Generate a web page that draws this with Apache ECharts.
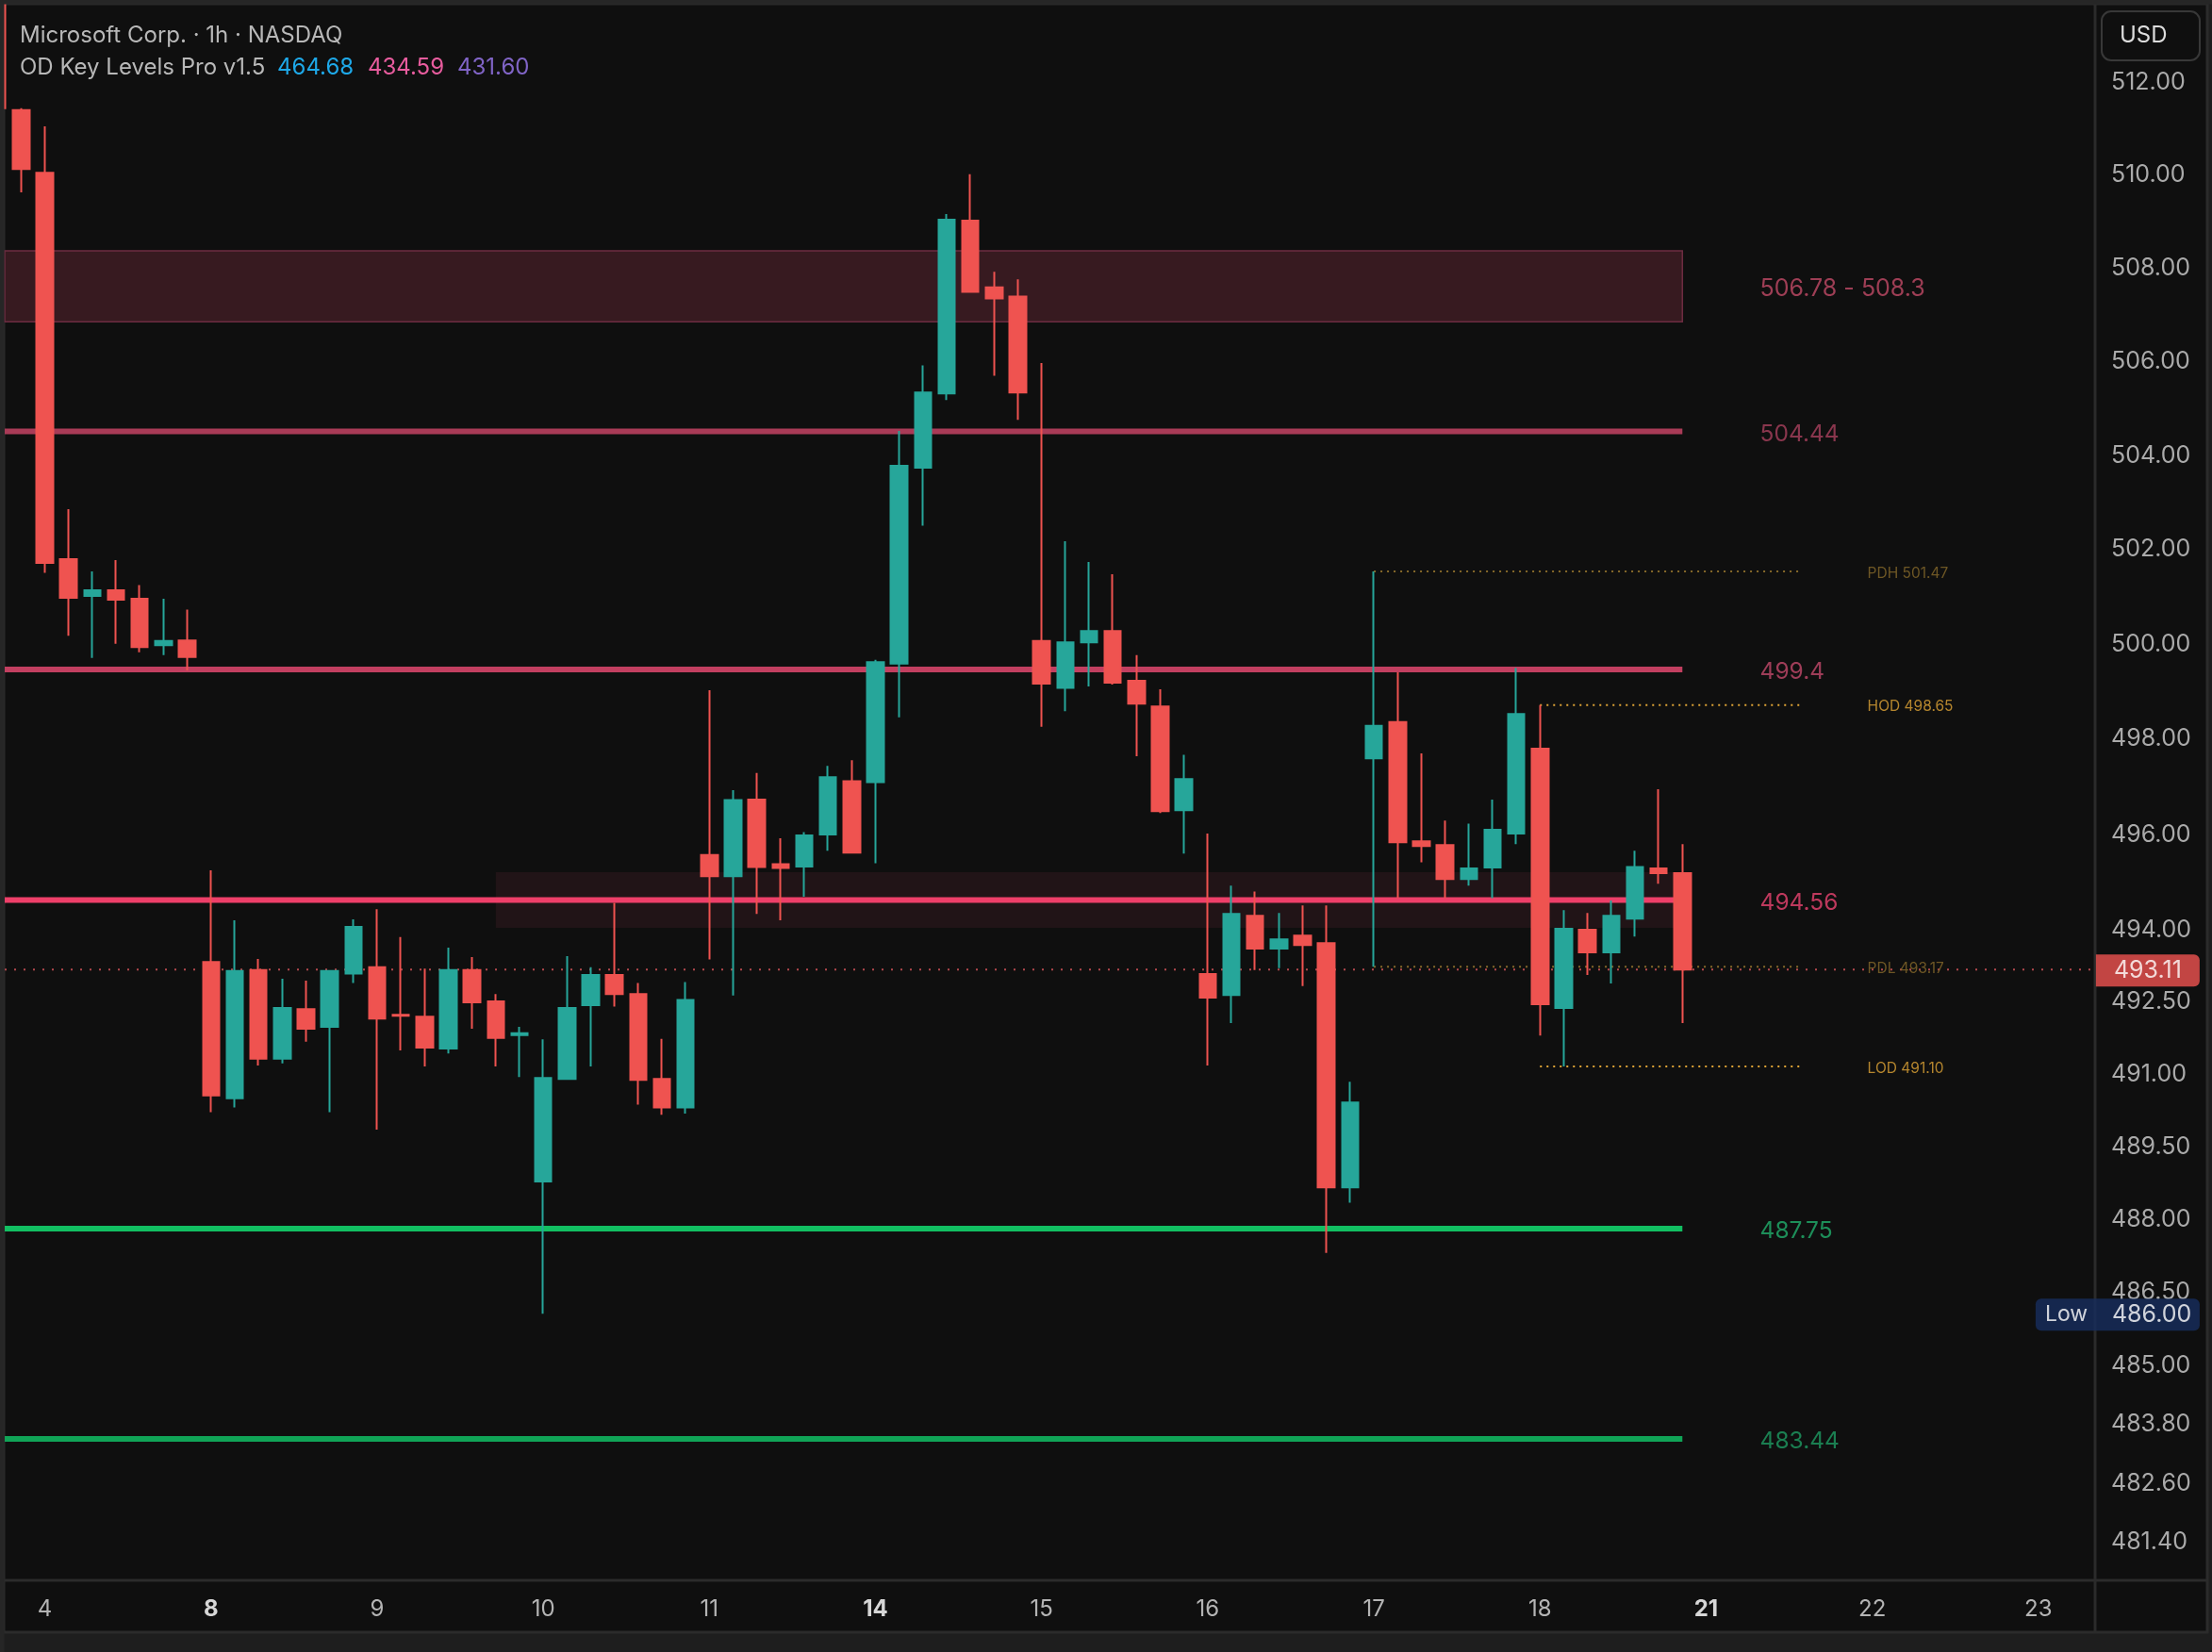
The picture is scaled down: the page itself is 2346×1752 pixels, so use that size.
<!DOCTYPE html>
<html><head><meta charset="utf-8">
<style>html,body{margin:0;padding:0;background:#1e1e1e}#c{width:2346px;height:1752px}</style>
<script src="https://cdn.jsdelivr.net/npm/echarts@6/dist/echarts.min.js"></script>
</head><body><div id="c"></div><script>
// ---- data ----
const opens=[514,511.33,509.98,501.73,500.95,501.07,500.89,499.91,500.01,493.27,490.44,493.10,491.26,492.29,491.92,493.03,493.16,492.17,492.13,491.47,493.10,492.45,491.75,488.72,490.84,492.37,493.0,492.60,490.84,490.25,495.50,495.06,496.66,495.31,495.26,495.93,497.05,497.03,499.52,503.67,505.25,508.95,507.52,507.32,500.0,499.01,499.97,500.21,499.16,498.62,496.44,493.02,492.58,494.23,493.55,493.82,493.66,488.60,497.53,498.29,495.79,495.71,495.0,495.24,495.95,497.73,492.31,493.94,493.47,494.17,495.22,495.12];
const closes=[511.37,510.06,501.65,500.91,501.07,500.87,499.87,500.0,499.66,490.50,493.08,491.26,492.31,491.88,493.08,494.0,492.09,492.15,491.49,493.10,492.43,491.69,491.79,490.86,492.31,493.0,492.60,490.82,490.25,492.48,495.06,496.65,495.25,495.23,495.91,497.13,495.55,499.55,503.71,505.27,508.97,507.42,507.28,505.27,499.10,499.97,500.21,499.12,498.68,496.42,497.09,492.53,494.27,493.55,493.74,493.62,488.60,490.35,498.21,495.77,495.69,495.0,495.22,496.03,498.46,492.39,493.96,493.47,494.23,495.25,495.12,493.11];
const lows=[511.3,509.56,501.44,500.11,499.64,499.94,499.76,499.70,499.38,490.15,490.25,491.12,491.16,491.61,490.15,492.83,489.79,491.43,491.10,491.37,491.88,491.10,490.88,486.0,490.82,491.10,492.34,490.31,490.10,490.12,493.32,492.57,494.27,494.14,494.63,495.59,495.53,495.33,498.39,502.44,505.11,507.40,505.63,504.69,498.19,498.52,499.04,499.08,497.57,496.38,495.53,491.12,492.0,493.10,493.14,492.77,487.25,488.28,493.17,494.60,495.35,494.60,494.86,494.60,495.73,491.74,491.10,493.0,492.82,493.80,494.90,492.0];
const highs=[514.5,511.37,510.98,502.79,501.47,501.71,501.18,500.89,500.66,495.18,494.14,493.33,492.92,492.88,493.10,494.16,494.37,493.79,493.13,493.57,493.37,492.60,491.92,491.66,493.39,493.16,494.50,492.83,491.67,492.85,498.96,496.86,497.22,495.85,495.98,497.37,497.49,499.6,504.45,505.85,509.09,509.95,507.85,507.69,505.9,502.11,501.67,501.41,499.70,498.98,497.60,495.95,494.86,494.74,494.29,494.45,494.45,490.78,501.47,499.34,497.63,496.22,496.16,496.66,499.43,498.65,494.35,494.29,494.55,495.59,496.88,495.73];
const candleIndex=opens.map((_,i)=>i===0?-0.03:i);
const dayTicks=[2,9,16,23,30,37,44,51,58,65,72,79,86];
const dayLabels=['4','8','9','10','11','14','15','16','17','18','21','22','23'];
const boldDays=['8','14','21'];
const priceTicks=[512,510,508,506,504,502,500,498,496,494,492.5,491,489.5,488,486.5,485,483.8,482.6,481.4];
const levelValues=[504.44,499.4,494.56,487.75,483.44];
const levelColors=['#a93b57','#c23f60','#ee3f69','#12bf62','#10a457'];
const levelTextColors=['#a8405c','#c2486a','#ea4470','#20ae6c','#1e9a62'];
const zoneHigh=508.3, zoneLow=506.78;
const softZoneHigh=495.14, softZoneLow=493.98;
const keyNames=['PDH','HOD','PDL','LOD'];
const keyValues=[501.47,498.65,493.17,491.10];
const keyStarts=[58,65,58,65];
const keyColors=['#86692a','#dfa436','#86692a','#dfa436'];
const lastPrice=493.11, lowPrice=486.00;
// ---- axes frame ----
const xMin=0.309, xMax=88.39, yMin=480.56, yMax=513.61;
const levelEnd=71, keyEnd=76, labelX=74.25, keyLabelX=78.78, priceTagX=90.61, lowTagX=89.34;
const font='Inter';
const candleData=opens.map((o,i)=>[candleIndex[i],o,closes[i],lows[i],highs[i]]);
const lineSeries=(data,color,width,dash,z)=>({type:'line',data,symbol:'none',silent:true,animation:false,z,
  lineStyle:{color,width,type:dash||'solid'}});
const textSeries=(items,z)=>({type:'scatter',silent:true,animation:false,clip:false,z:z||5,symbolSize:1,
  itemStyle:{color:'transparent'},
  data:items.map(t=>({value:[t.x,t.y],label:Object.assign({show:true,position:'right',distance:0,fontFamily:font,formatter:t.text},t.style)}))});
const series=[];
// zones
series.push({type:'line',data:[],silent:true,animation:false,z:1,markArea:{silent:true,animation:false,data:[
  [{coord:[xMin,zoneHigh],itemStyle:{color:'#371a20',borderColor:'#6d2c41',borderWidth:1.5}},{coord:[levelEnd,zoneLow]}],
  [{coord:[21,softZoneHigh],itemStyle:{color:'#211417',borderWidth:0}},{coord:[levelEnd,softZoneLow]}]
]}});
// level lines
levelValues.forEach((v,i)=>series.push(lineSeries([[xMin,v],[levelEnd,v]],levelColors[i],6,null,2)));
// key levels
keyValues.forEach((v,i)=>series.push(lineSeries([[keyStarts[i],v],[keyEnd,v]],keyColors[i],2,[2,5],2)));
// last price
series.push(lineSeries([[xMin,lastPrice],[xMax,lastPrice]],'#b2484c',2,[2,8],2));
// candles
series.push({type:'candlestick',data:candleData,barWidth:18,z:3,silent:true,animation:false,
  itemStyle:{color:'#26a69a',color0:'#ef5350',borderColor:'#26a69a',borderColor0:'#ef5350',borderWidth:2}});
// level labels
const levelItems=[{x:labelX,y:(zoneHigh+zoneLow)/2,text:'506.78 - 508.3',style:{color:'#c24a66',fontSize:25,offset:[0,3]}}]
  .concat(levelValues.map((v,i)=>({x:labelX,y:v,text:String(v),style:{color:levelTextColors[i],fontSize:24.5,offset:[0,3]}})))
  .concat(keyValues.map((v,i)=>({x:keyLabelX,y:v,text:keyNames[i]+' '+v.toFixed(2),style:{color:keyColors[i],fontSize:15.5,offset:[0,2]}})));
series.push(textSeries(levelItems,5));
// price tags
series.push(textSeries([
 {x:priceTagX,y:lastPrice,text:lastPrice.toFixed(2),style:{position:'inside',color:'#fff',fontSize:25,backgroundColor:'#ef5350',width:110,height:34,lineHeight:34,align:'center',verticalAlign:'middle',borderRadius:[0,6,6,0],offset:[0,1]}},
 {x:lowTagX,y:lowPrice,text:'{a|Low}{b|'+lowPrice.toFixed(2)+'}',style:{position:'inside',color:'#fff',fontSize:25,backgroundColor:'#162d5e',borderRadius:6,align:'center',verticalAlign:'middle',offset:[0,1],
   rich:{a:{fontFamily:font,fontSize:23,color:'#fff',width:71,height:34,lineHeight:34,align:'left',padding:[0,0,0,10]},b:{fontFamily:font,fontSize:25,color:'#fff',width:93,height:34,lineHeight:34,align:'left'}}}}
],8));
const option={
 backgroundColor:'#1e1e1e',animation:false,
 grid:{left:5,right:124,top:5,bottom:76,show:false},
 xAxis:{type:'value',min:xMin,max:xMax,splitLine:{show:false},axisTick:{show:false},
  axisLine:{show:false},
  axisLabel:{customValues:dayTicks,margin:19,fontFamily:font,fontSize:24,color:'#b4b4b4',
   formatter:v=>{const l=dayLabels[dayTicks.indexOf(Math.round(v))];return boldDays.includes(l)?'{b|'+l+'}':l;},
   rich:{b:{fontFamily:font,fontSize:24,fontWeight:'bold',color:'#d6d6d6'}}}},
 yAxis:{type:'log',logBase:10,min:yMin,max:yMax,position:'right',splitLine:{show:false},minorSplitLine:{show:false},axisTick:{show:false},
  axisLine:{show:false},
  axisLabel:{customValues:priceTicks,margin:17,fontFamily:font,fontSize:25,color:'#aaaaaa',verticalAlign:'top',lineHeight:7,formatter:v=>Number(v).toFixed(2)}},
 graphic:[
  {type:'rect',z:-10,shape:{x:4,y:4,width:2337,height:1727},style:{fill:'#0f0f0f',stroke:'#2b2b2b',lineWidth:3}},
  {type:'line',z:-9,shape:{x1:2222,y1:4,x2:2222,y2:1731},style:{stroke:'#2b2b2b',lineWidth:3}},
  {type:'line',z:-9,shape:{x1:4,y1:1676,x2:2341,y2:1676},style:{stroke:'#2b2b2b',lineWidth:3}},
  {type:'rect',z:20,shape:{x:0,y:0,width:4.5,height:1752},style:{fill:'#262626'}},
  {type:'rect',z:20,shape:{x:0,y:0,width:2346,height:4.5},style:{fill:'#262626'}},
  {type:'rect',z:20,shape:{x:2229,y:12,width:104,height:52,r:10},style:{fill:'#0f0f0f',stroke:'#383838',lineWidth:2}},
  {type:'text',z:21,x:2248,y:38,style:{text:'USD',fill:'#dcdcdc',font:'24px '+font,textVerticalAlign:'middle'}},
  {type:'text',z:21,x:21,y:37.5,style:{text:'Microsoft Corp. · 1h · NASDAQ',fill:'#b8b8b8',font:'24px '+font,textVerticalAlign:'middle'}},
  {type:'text',z:21,x:21,y:71.5,style:{text:'OD Key Levels Pro v1.5',fill:'#b8b8b8',font:'24px '+font,textVerticalAlign:'middle'}},
  {type:'text',z:21,x:294,y:71.5,style:{text:'464.68',fill:'#1ea8e8',font:'24px '+font,textVerticalAlign:'middle'}},
  {type:'text',z:21,x:390,y:71.5,style:{text:'434.59',fill:'#e85c9e',font:'24px '+font,textVerticalAlign:'middle'}},
  {type:'text',z:21,x:485,y:71.5,style:{text:'431.60',fill:'#8064c6',font:'24px '+font,textVerticalAlign:'middle'}}
 ],
 series
};
echarts.init(document.getElementById('c'),null,{renderer:'canvas'}).setOption(option);
</script></body></html>
